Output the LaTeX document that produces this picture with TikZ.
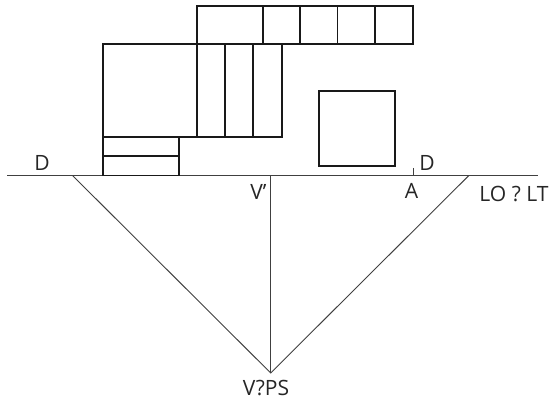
\documentclass[tikz,border=0pt]{standalone}
\usepackage{fontspec}
\setmainfont{Open Sans}
\begin{document}
\begin{tikzpicture}[xscale=0.03,yscale=-0.03,
  heavyLine/.style={line width=0.55mm,color=black!90},
  thinLine/.style={line width=0.28mm,color=black!75},
  viewLabel/.style={font=\fontsize{18}{21}\selectfont,color=black!85,inner sep=0pt}]
\useasboundingbox (0,0) rectangle (551,403);
\draw[thinLine] (7,175.7) -- (538,175.7);
\draw[thinLine] (413,168) -- (413,175.7);
\draw[heavyLine] (103,43.7) rectangle (196.7,137.3);
\draw[heavyLine] (103,137.3) rectangle (179,175.5);
\draw[heavyLine] (103,155.7) -- (179,155.7);
\draw[heavyLine] (196.7,6) rectangle (413,43.7);
\foreach \x in {262.7,300,337.5,375}
  \draw[heavyLine] (\x,6) -- (\x,43.7);
\draw[heavyLine] (196.7,43.7) rectangle (281.7,137.3);
\foreach \x in {225,253.3}
  \draw[heavyLine] (\x,43.7) -- (\x,137.3);
\draw[heavyLine] (319,90.7) rectangle (394.7,166);
% triangle
\coordinate (D left) at (72.7,175.7);
\coordinate (D right) at (468.7,175.7);
\coordinate (V foot) at (270.7,175.7);
\coordinate (V apex) at (270.7,373);
\draw[thinLine] (D left) -- (V apex) -- (D right);
\draw[thinLine] (V foot) -- (V apex);
\node[viewLabel] (labelDleft) at (42,163) {D};
\node[viewLabel] (labelDright) at (427,163) {D};
\node[viewLabel] (labelA) at (411.5,190.5) {A};
\node[viewLabel] (labelVprime) at (258.5,192) {V'};
\node[viewLabel] (labelLO) at (514,194) {LO ? LT};
\node[viewLabel] (labelVPS) at (266,388) {V?PS};
\end{tikzpicture}
\end{document}
